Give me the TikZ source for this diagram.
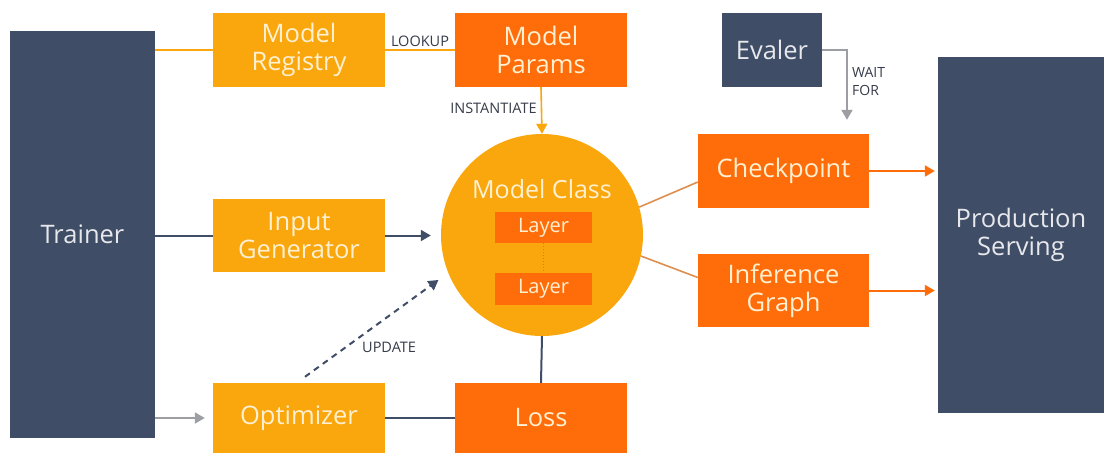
\documentclass[tikz,border=0pt]{standalone}
\usepackage{fontspec}
\setmainfont{Open Sans}
\usetikzlibrary{arrows.meta,calc}
\definecolor{lor}{HTML}{F9A70C}
\definecolor{dor}{HTML}{FF6D0A}
\definecolor{slate}{HTML}{404D66}
\definecolor{cream}{HTML}{FFF0D2}
\definecolor{lbl}{HTML}{363C4A}
\definecolor{grl}{HTML}{9C9EA3}
\definecolor{brl}{HTML}{DD8F4F}
\definecolor{ltext}{HTML}{E6E8EC}
\begin{document}
\begin{tikzpicture}[x=1pt,y=-1pt,
  box/.style={rectangle,inner sep=0pt,align=center,font=\fontsize{25.5}{28}\selectfont},
  lbox/.style={box,fill=lor,text=cream},
  dbox/.style={box,fill=dor,text=cream},
  sbox/.style={box,fill=slate,text=ltext},
  lab/.style={text=lbl,font=\fontsize{14.5}{18}\selectfont,inner sep=1pt},
  tip/.style={-{Triangle[length=10pt,width=11pt]}},
  darkline/.style={draw=slate,line width=2pt},
  orline/.style={draw=lor,line width=1.6pt},
  grline/.style={draw=grl,line width=1.8pt},
  brline/.style={draw=brl,line width=1.6pt},
  dorline/.style={draw=dor,line width=2pt}]
\useasboundingbox (0,0) rectangle (1104,453);
\fill[white] (0,0) rectangle (1104,453);
% nodes
\node[sbox,minimum width=145pt,minimum height=407pt] (trainer) at (82.5,234.5) {Trainer};
\node[lbox,minimum width=172pt,minimum height=74pt] (reg) at (299,50) {Model\\Registry};
\node[dbox,minimum width=172pt,minimum height=74pt] (par) at (541,50) {Model\\Params};
\node[lbox,minimum width=172pt,minimum height=73pt] (inp) at (299,235.5) {Input\\Generator};
\node[lbox,minimum width=172pt,minimum height=70pt] (opt) at (299,418) {Optimizer};
\node[dbox,minimum width=172pt,minimum height=70pt] (loss) at (541,418) {Loss};
\node[circle,fill=lor,minimum size=202pt,inner sep=0pt] (mc) at (542,235) {};
\node[text=cream,font=\fontsize{25}{28}\selectfont,inner sep=0pt] (mct) at (542,189) {Model Class};
\node[dbox,minimum width=97pt,minimum height=31pt,font=\fontsize{20}{24}\selectfont] (l1) at (543.5,227.5) {Layer};
\node[dbox,minimum width=97pt,minimum height=32pt,font=\fontsize{20}{24}\selectfont] (l2) at (543.5,289) {Layer};
\node[sbox,minimum width=100pt,minimum height=74pt] (ev) at (772,50) {Evaler};
\node[dbox,minimum width=171pt,minimum height=74pt] (ck) at (783.5,171) {Checkpoint};
\node[dbox,minimum width=171pt,minimum height=73pt] (inf) at (783.5,290.5) {Inference\\Graph};
\node[sbox,minimum width=166pt,minimum height=356pt] (prod) at (1021,235) {Production\\Serving};
% connectors
\draw[dor,line width=1pt,dotted] (l1.south) -- (l2.north);
\draw[orline] (trainer.east |- reg.west) -- (reg.west);
\draw[orline] (reg.east) -- node[lab,above=2pt] (lk) {LOOKUP} (par.west);
\draw[orline,lor,tip] (par.south) -- node[lab,left=3pt,pos=0.45] (inst) {INSTANTIATE} (mc.north);
\draw[darkline] (trainer.east |- inp.west) -- (inp.west);
\draw[darkline,slate,tip,shorten >=10pt] (inp.east) -- (inp.east -| mc.west);
\draw[grline,grl,tip,shorten >=8pt] (trainer.east |- opt.west) -- (opt.west);
\draw[darkline] (opt.east) -- (loss.west);
\draw[darkline] (mc.south) -- (loss.north);
\coordinate (us) at ($(opt.north)+(6,-6)$);
\draw[slate,line width=2pt,dash pattern=on 6pt off 5pt,tip,shorten >=12pt] (us) -- (mc.202);
\node[lab,anchor=west] (upd) at (361,347) {UPDATE};
\draw[brline] (mc.16) -- ($(ck.west)+(0,11)$);
\draw[brline] (mc.-12) -- ($(inf.west)+(0,-13)$);
\draw[dorline,dor,tip,shorten >=3pt] (ck.east) -- (ck.east -| prod.west);
\draw[dorline,dor,tip,shorten >=3pt] (inf.east) -- (inf.east -| prod.west);
\coordinate (wf) at ($(ck.north)+(63.5,-14)$);
\draw[grline,grl,tip] (ev.east) -| (wf);
\node[lab,align=left,anchor=west,font=\fontsize{14}{18}\selectfont] (wt) at (851,82) {WAIT\\FOR};
\end{tikzpicture}
\end{document}
